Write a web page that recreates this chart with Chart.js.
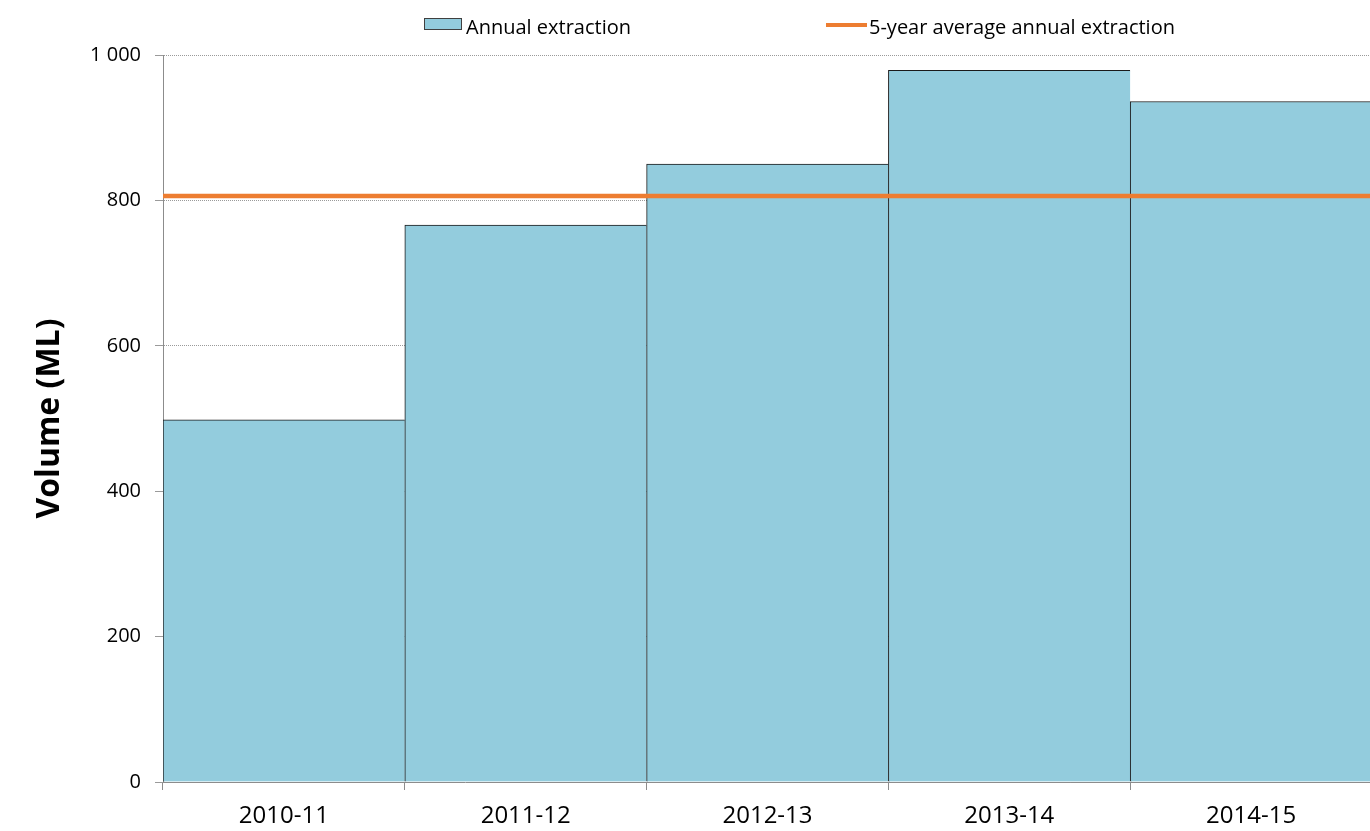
<!DOCTYPE html>
<html>
<head>
<meta charset="utf-8">
<script src="https://cdn.jsdelivr.net/npm/chart.js@4/dist/chart.umd.min.js"></script>
<style>
  html, body { margin: 0; padding: 0; background: #fff; overflow: hidden; }
  #wrap { position: relative; width: 1372px; height: 831px; }
  #legend { position: absolute; left: 0; top: 0; width: 100%; height: 50px;
    font-family: 'Open Sans', sans-serif; font-size: 20px; color: #000; }
  .item { position: absolute; top: 13px; line-height: 28px; white-space: nowrap; }
  .box { position: absolute; left: 424px; top: 18px; width: 36px; height: 10px;
    background: #93CCDD; border: 1px solid #404040; }
  .line { position: absolute; left: 826px; top: 23px; width: 41px; height: 4px; background: #ED7D31; }
</style>
</head>
<body>
<div id="wrap">
  <canvas id="chart" width="1372" height="831"></canvas>
  <div id="legend">
    <div class="box"></div>
    <div class="item" style="left:466px">Annual extraction</div>
    <div class="line"></div>
    <div class="item" style="left:869px">5-year average annual extraction</div>
  </div>
</div>
<script>
'use strict';

var fontFamily = "'Open Sans', sans-serif";
var years = ['2010-11', '2011-12', '2012-13', '2013-14', '2014-15'];
var annualExtraction = [498, 766, 850, 979, 936];
// average line runs across the full period, start to end
var averageSpan = [0, 5];
var averageExtraction = [806, 806];
var yTicks = [0, 200, 400, 600, 800, 1000];

function formatThousands(v) {
  return String(v).replace(/\B(?=(\d{3})+(?!\d))/g, ' ');
}

new Chart(document.getElementById('chart'), {
  type: 'bar',
  data: {
    labels: years,
    datasets: [{
      label: 'Annual extraction',
      data: annualExtraction,
      backgroundColor: '#93CCDD',
      borderColor: '#1a1a1a',
      borderWidth: { top: 1, left: 1, right: 0, bottom: 0 },
      borderSkipped: false,
      barPercentage: 1,
      categoryPercentage: 1,
      grouped: false,
      order: 1
    }, {
      type: 'line',
      label: '5-year average annual extraction',
      data: averageSpan.map(function (x, i) { return { x: x, y: averageExtraction[i] }; }),
      xAxisID: 'xLine',
      borderColor: '#ED7D31',
      borderWidth: 4.5,
      pointRadius: 0,
      order: 0
    }]
  },
  options: {
    responsive: false,
    animation: false,
    layout: { padding: { top: 55, right: 0, bottom: 0, left: 0 } },
    plugins: {
      legend: { display: false },
      tooltip: { enabled: false }
    },
    scales: {
      x: {
        offset: true,
        grid: { offset: true, drawOnChartArea: false, drawTicks: true, tickLength: 8, color: '#8c8c8c' },
        border: { color: '#8c8c8c', width: 1 },
        ticks: { color: '#000', padding: 12, font: { family: fontFamily, size: 24 } },
        afterFit: function (s) { s.height = 49; }
      },
      xLine: {
        type: 'linear',
        display: false,
        offset: false,
        grid: { offset: false },
        min: 0,
        max: 5
      },
      y: {
        min: 0,
        max: 1000,
        afterBuildTicks: function (s) { s.ticks = yTicks.map(function (v) { return { value: v }; }); },
        grid: { color: '#9a9a9a', tickLength: 8, lineWidth: 1 },
        border: { color: '#8c8c8c', width: 1, dash: [1, 1] },
        ticks: {
          color: '#000',
          padding: 14,
          font: { family: fontFamily, size: 20 },
          callback: function (v) { return formatThousands(v); }
        },
        title: {
          display: true,
          text: 'Volume (ML)',
          color: '#000',
          padding: { top: 31, bottom: 0 },
          font: { family: fontFamily, size: 32, weight: 'bold' }
        },
        afterFit: function (s) { s.width = 163; }
      }
    }
  }
});
</script>
</body>
</html>
